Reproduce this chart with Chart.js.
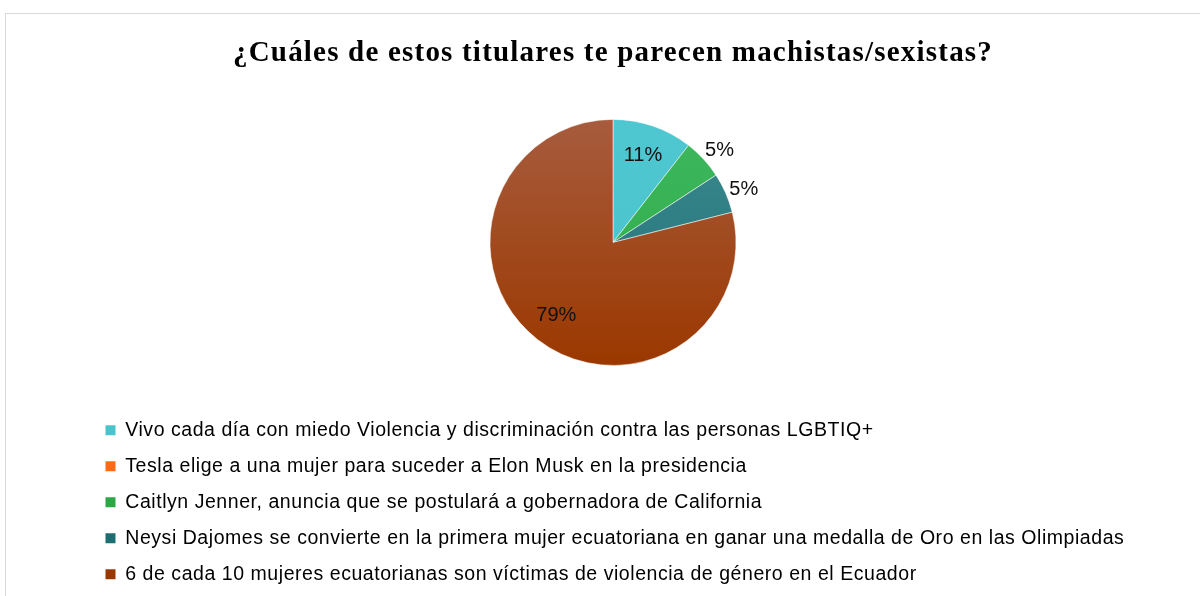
<!DOCTYPE html>
<html>
<head>
<meta charset="utf-8">
<script src="https://cdn.jsdelivr.net/npm/chart.js@4"></script>
<style>
body{margin:0;background:#fff;overflow:hidden}
#frame{position:absolute;left:5px;top:13px;width:1300px;height:700px;border:1px solid #d9d9d9}
#wrap{position:absolute;left:0;top:0;width:1200px;height:596px}
</style>
</head>
<body>
<div id="frame"></div>
<div id="wrap"><canvas id="pieChart" width="1200" height="596"></canvas></div>
<script>
let labels = [
"Vivo cada día con miedo Violencia y discriminación contra las personas LGBTIQ+",
"Tesla elige a una mujer para suceder a Elon Musk en la presidencia",
"Caitlyn Jenner, anuncia que se postulará a gobernadora de California",
"Neysi Dajomes se convierte en la primera mujer ecuatoriana en ganar una medalla de Oro en las Olimpiadas",
"6 de cada 10 mujeres ecuatorianas son víctimas de violencia de género en el Ecuador"
];
let votes = [2, 0, 1, 1, 15];
let colorsTop = ["#4fc7d0", "#ff6a13", "#3fb85e", "#3d8b91", "#a75c3e"];
let colorsBottom = ["#49c3cc", "#ff6a13", "#2aa845", "#1c6e73", "#9b3800"];

function sliceColor(c){
let chart = c.chart;
let i = c.dataIndex;
if(!chart.chartArea) return colorsBottom[i];
let g = chart.ctx.createLinearGradient(0, 118, 0, 364);
g.addColorStop(0, colorsTop[i]);
g.addColorStop(1, colorsBottom[i]);
return g;
}

// the original text is set a bit wider than our fonts
let spacing = {
id: "spacing",
beforeUpdate(chart){
chart.ctx.letterSpacing = "0.55px";
},
beforeDraw(chart){
chart.ctx.letterSpacing = "0.55px";
let t = chart.titleBlock;
if(t && !t._wide){
let orig = t.draw;
t.draw = function(){
chart.ctx.letterSpacing = "1.2px";
orig.call(this);
chart.ctx.letterSpacing = "0.55px";
};
t._wide = true;
}
}
};

// percent labels, small slices go outside the pie
let pctLabels = {
id: "pctLabels",
afterDatasetsDraw(chart){
let ctx = chart.ctx;
let meta = chart.getDatasetMeta(0);
let total = votes.reduce((a,b)=>a+b,0);
ctx.save();
ctx.letterSpacing = "0px";
ctx.font = "20px 'Liberation Sans', Arial, sans-serif";
ctx.fillStyle = "#111";
ctx.textAlign = "center";
ctx.textBaseline = "middle";
meta.data.forEach((arc,i)=>{
if(votes[i]==0) return;
let p = arc.getProps(["x","y","startAngle","endAngle","outerRadius"], true);
let pct = Math.round(votes[i]/total*100);
let mid = (p.startAngle+p.endAngle)/2;
let r = pct<8 ? p.outerRadius+18 : p.outerRadius*0.75;
if(pct<8) mid += 0.03;
ctx.fillText(pct+"%", p.x+Math.cos(mid)*r, p.y+Math.sin(mid)*r);
});
ctx.restore();
}
};

new Chart(document.getElementById("pieChart"), {
type: "pie",
data: {
labels: labels,
datasets: [{
data: votes,
backgroundColor: sliceColor,
borderColor: "rgba(255,255,255,0.5)",
borderWidth: 1,
radius: 123
}]
},
options: {
responsive: false,
animation: false,
layout: {padding: {left: 89, right: 63, top: 0, bottom: 2}},
plugins: {
title: {
display: true,
text: "¿Cuáles de estos titulares te parecen machistas/sexistas?",
color: "#000",
font: {family: "'Liberation Serif', 'Times New Roman', serif", size: 29, weight: "bold"},
padding: {top: 36, bottom: 10}
},
legend: {
position: "bottom",
align: "start",
labels: {
color: "#111",
font: {family: "'Liberation Sans', Arial, sans-serif", size: 19.5},
boxWidth: 10,
boxHeight: 10,
padding: 16.5,
generateLabels(chart){
return labels.map((t,i)=>({text: t, fillStyle: colorsBottom[i], strokeStyle: colorsBottom[i], lineWidth: 0, index: i}));
}
}
},
tooltip: {enabled: false}
}
},
plugins: [spacing, pctLabels]
});
</script>
</body>
</html>
